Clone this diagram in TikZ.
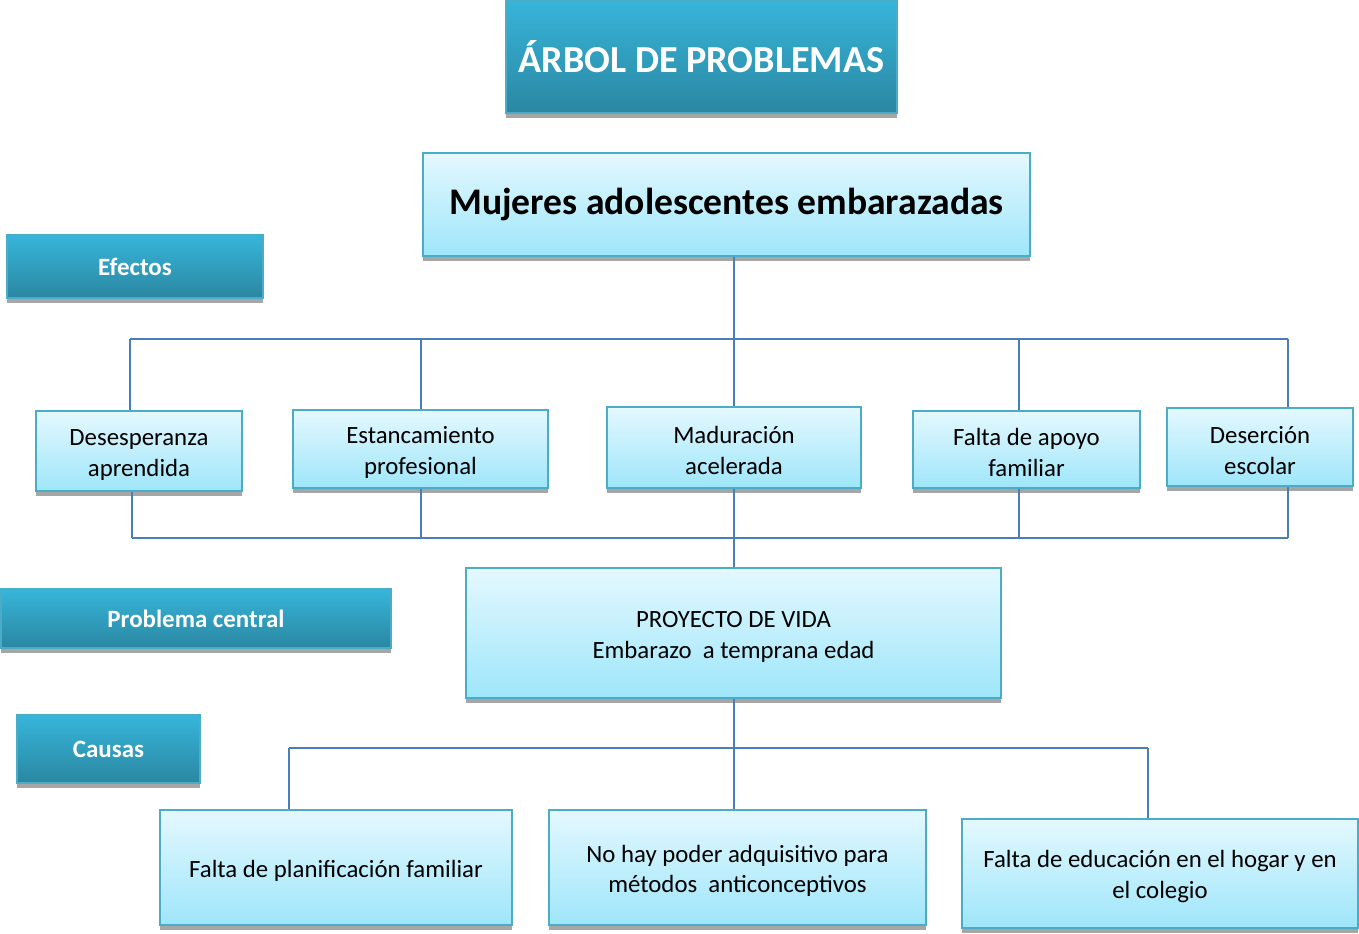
\documentclass[tikz,border=0pt]{standalone}
\usepackage{fontspec}
\setmainfont{Carlito}
\usetikzlibrary{shadows}
\definecolor{darktop}{HTML}{37B5DA}
\definecolor{darkbot}{HTML}{2A87A2}
\definecolor{lighttop}{HTML}{E4F8FE}
\definecolor{lightbot}{HTML}{9EE6FA}
\definecolor{edgecol}{HTML}{4BACC6}
\definecolor{linecol}{HTML}{4A7EBB}
\newcommand{\alto}{\rule{0pt}{18pt}}
\tikzset{
  boxbase/.style={draw=edgecol, line width=1.6pt, inner sep=2pt, align=center,
    drop shadow={shadow xshift=0pt, shadow yshift=-3.6pt, fill=black!35, opacity=1}},
  darkbox/.style={boxbase, top color=darktop, bottom color=darkbot, text=white},
  lightbox/.style={boxbase, top color=lighttop, bottom color=lightbot, text=black,
    font=\fontsize{18.6}{23.2}\selectfont},
  tagfont/.style={font=\fontsize{18.7}{22}\selectfont\bfseries},
  conn/.style={draw=linecol, line width=1.5pt}
}

\begin{document}
\begin{tikzpicture}[x=0.75pt, y=-0.75pt]
		%%%%% START %%%%%
		\useasboundingbox (0,0) rectangle (1359,933);
		
		\node[darkbox, minimum width=293.25pt, minimum height=84.75pt,
		  font=\fontsize{28.6}{34}\selectfont\bfseries] (titulo) at (701.5,56.5) {ÁRBOL DE PROBLEMAS};
		\node[lightbox, minimum width=455.25pt, minimum height=77.25pt,
		  font=\fontsize{28.2}{32}\selectfont\bfseries] (mujeres) at (726.5,204.5) {Mujeres adolescentes embarazadas};
		
		\node[darkbox, tagfont, minimum width=192pt, minimum height=47.25pt] (efectos) at (135,266.5) {Efectos};
		\node[darkbox, tagfont, minimum width=292.5pt, minimum height=44.25pt] (central) at (196,618.5) {Problema central};
		\node[darkbox, tagfont, minimum width=137.25pt, minimum height=51pt] (causas) at (108.5,749) {Causas};
		
		% efectos
		\node[lightbox, minimum width=154.5pt, minimum height=60pt] (desesp) at (139,451) {\alto Desesperanza\\aprendida};
		\node[lightbox, minimum width=191.25pt, minimum height=58.5pt] (estanc) at (420.5,449) {\alto Estancamiento\\profesional};
		\node[lightbox, minimum width=190.5pt, minimum height=60.75pt] (madur) at (734,447.5) {\alto Maduración\\acelerada};
		\node[lightbox, minimum width=170.25pt, minimum height=57.75pt] (apoyo) at (1026.5,449.5) {\alto Falta de apoyo\\familiar};
		\node[lightbox, minimum width=139.5pt, minimum height=58.5pt] (desercion) at (1260,447) {\alto Deserción\\escolar};
		
		% problema central
		\node[lightbox, minimum width=401.25pt, minimum height=97.5pt] (proyecto) at (733.5,633) {\alto PROYECTO DE VIDA\\Embarazo\ \ a temprana edad};
		
		% causas
		\node[lightbox, minimum width=264pt, minimum height=86.25pt] (planif) at (336,867.5) {\alto Falta de planificación familiar};
		\node[lightbox, minimum width=282.75pt, minimum height=86.25pt] (poder) at (737.5,867.5) {\alto No hay poder adquisitivo para\\métodos\ \ anticonceptivos};
		\node[lightbox, minimum width=297pt, minimum height=81.75pt] (educ) at (1160,873.5) {\alto Falta de educación en el hogar y en\\el colegio};
		
		% conectores superiores
		\coordinate (arribaL) at (130,339);
		\coordinate (arribaR) at (1288,339);
		\draw[conn] (madur.north |- mujeres.south) -- (madur.north);
		\draw[conn] (arribaL) -- (arribaR);
		\draw[conn] (arribaL) -- (desesp.north -| arribaL);
		\draw[conn] (estanc.north |- arribaL) -- (estanc.north);
		\coordinate (apoyoX) at (1019,339);
		\draw[conn] (apoyoX) -- (apoyo.north -| apoyoX);
		\draw[conn] (arribaR) -- (desercion.north -| arribaR);
		
		% conectores inferiores
		\coordinate (abajoL) at (132,538);
		\coordinate (abajoR) at (1288,538);
		\draw[conn] (abajoL) -- (abajoR);
		\draw[conn] (desesp.south -| abajoL) -- (abajoL);
		\draw[conn] (estanc.south) -- (estanc.south |- abajoL);
		\draw[conn] (madur.south) -- (proyecto.north -| madur.south);
		\draw[conn] (apoyoX |- apoyo.south) -- (apoyoX |- abajoL);
		\draw[conn] (desercion.south -| abajoR) -- (abajoR);
		
		% conectores de causas
		\coordinate (causaL) at (289,748);
		\coordinate (causaR) at (1148,748);
		\draw[conn] (causaL) -- (causaR);
		\draw[conn] (proyecto.south) -- (poder.north -| proyecto.south);
		\draw[conn] (causaL) -- (planif.north -| causaL);
		\draw[conn] (causaR) -- (educ.north -| causaR);
		%%%%% END %%%%%
\end{tikzpicture}
\end{document}
